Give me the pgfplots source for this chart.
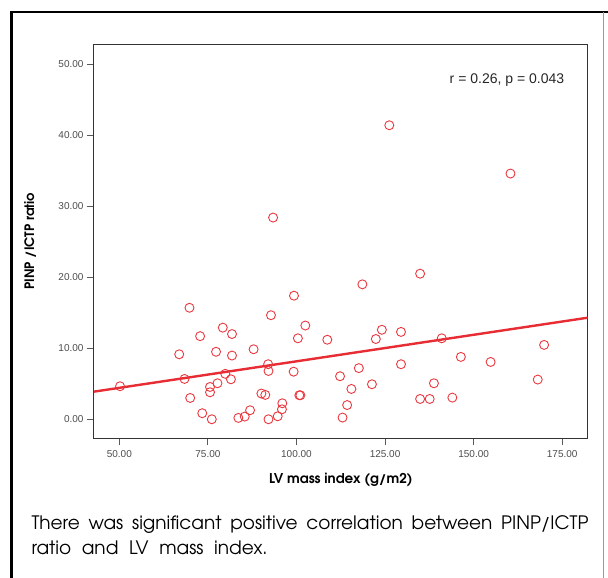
\documentclass[border=0pt]{standalone}
\usepackage{fontspec}
\setmainfont{Liberation Sans}
\newfontfamily\gothic{TeX Gyre Adventor}
\usepackage{pgfplots}
\pgfplotsset{compat=1.18}
\definecolor{ptred}{RGB}{234,56,64}
\definecolor{lnred}{RGB}{232,44,52}
\pgfplotstableread{
x y
50.2 4.65
69.8 15.7
66.9 9.15
68.4 5.68
70.0 3.0
72.8 11.7
73.4 0.85
76.1 0.0
75.6 4.55
75.6 3.8
77.7 5.07
77.3 9.5
79.2 12.9
81.8 12.0
81.8 8.97
79.9 6.4
81.5 5.63
83.6 0.19
85.4 0.38
86.9 1.27
87.9 9.86
90.1 3.62
91.2 3.43
92.1 0.0
92.0 7.75
92.1 6.8
92.8 14.65
94.7 0.42
95.9 1.4
96.0 2.25
99.3 17.4
99.2 6.7
100.4 11.4
102.5 13.2
100.8 3.38
101.1 3.38
108.7 11.2
112.3 6.06
113.0 0.24
114.3 2.0
115.5 4.27
117.6 7.2
118.6 19.0
121.3 4.93
122.4 11.3
124.1 12.6
129.5 12.3
129.5 7.75
134.9 20.5
134.9 2.86
137.6 2.86
138.8 5.07
141.0 11.4
144.0 3.05
146.4 8.78
154.8 8.07
168.1 5.59
169.9 10.47
93.4 28.4
126.2 41.4
160.4 34.6
}\scatterdata
\begin{document}
\begin{tikzpicture}
\useasboundingbox (0pt,0pt) rectangle (608pt,578pt);
\draw[line width=2.5pt, black] (11.5pt,0pt) -- (11.5pt,566pt) -- (608pt,566pt);
\draw[line width=0.8pt, black!40] (603pt,566pt) -- (603pt,0pt);
\begin{axis}[
  at={(94pt,139.7pt)}, anchor=south west,
  scale only axis, width=493.7pt, height=394pt,
  xmin=42.85, xmax=182.2, ymin=-2.68, ymax=52.8,
  axis line style={draw=black!80, line width=1pt},
  tick pos=left, tick align=outside, major tick length=7pt,
  tick style={black!65, line width=1pt},
  xtick={50,75,...,175}, ytick={0,10,...,50},
  /pgf/number format/.cd, fixed, fixed zerofill, precision=2, 1000 sep={}, assume math mode=true,
  /pgfplots/.cd,
  ticklabel style={font=\fontsize{10}{12}\selectfont, text=black!70},
  xticklabel style={yshift=-2pt},
  xlabel={LV mass index (g/m2)},
  ylabel={PINP /ICTP ratio},
  xlabel style={font=\gothic\bfseries\fontsize{13.5}{15}\selectfont, at={(axis description cs:0.5,-0.1058)}, anchor=center},
  ylabel style={font=\gothic\bfseries\fontsize{13}{15}\selectfont, at={(axis description cs:-0.1296,0.5)}, anchor=center},
  clip=true,
]
\addplot[only marks, mark=o, mark size=4.5pt, draw=ptred, mark options={line width=0.9pt}] table[x=x,y=y] {\scatterdata};
\addplot[lnred, line width=2.4pt] coordinates {(42.85,3.89) (182.2,14.3)};
\node[anchor=east, font=\fontsize{14}{16}\selectfont, text=black!85] at (axis cs:176.55,47.8) {r = 0.26, p = 0.043};
\end{axis}
\node[anchor=west, font=\gothic\fontsize{18.5}{22}\selectfont] at (28pt,53.4pt) {\makebox[557pt][s]{There was significant positive correlation between PINP/ICTP}};
\node[anchor=west, font=\gothic\fontsize{18.5}{22}\selectfont] at (28pt,30pt) {\makebox[236pt][s]{ratio and LV mass index.}};
\end{tikzpicture}
\end{document}
